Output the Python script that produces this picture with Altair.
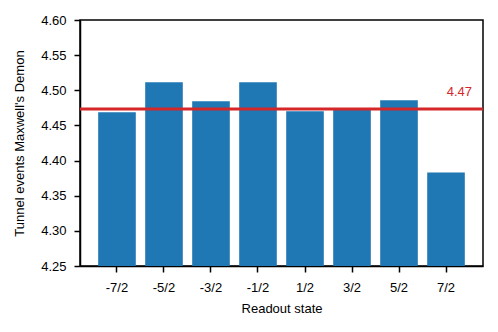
import altair as alt
import pandas as pd

states = ["-7/2", "-5/2", "-3/2", "-1/2", "1/2", "3/2", "5/2", "7/2"]
values = [4.4686, 4.5114, 4.4843, 4.5114, 4.4700, 4.4740, 4.4857, 4.3829]
yticks = [4.25, 4.30, 4.35, 4.40, 4.45, 4.50, 4.55, 4.60]

df = pd.DataFrame({"state": states, "value": values})
mean_val = sum(values) / len(values)
line_df = pd.DataFrame({"mean": [mean_val], "label": [f"{mean_val:.2f}"]})

FONT = "Liberation Sans"

yscale = alt.Scale(domain=[4.25, 4.6000001], zero=False, nice=False)
yaxis = alt.Axis(title="Tunnel events Maxwell's Demon", format=".2f",
                 labelOverlap=False, labelBound=False, labelFlush=False,
                 values=yticks, labelPadding=8, titlePadding=14)

bars = alt.Chart(df).mark_bar(color="#1f77b4", clip=True).encode(
    x=alt.X("state:N", sort=states,
            scale=alt.Scale(paddingInner=0.2, paddingOuter=0.387),
            axis=alt.Axis(title="Readout state", labelAngle=0,
                          labelPadding=9, titlePadding=8)),
    y=alt.Y("value:Q", scale=yscale, axis=yaxis),
    y2=alt.datum(4.25),
)

rule = alt.Chart(line_df).mark_rule(color="#d62728", strokeWidth=3).encode(
    y=alt.Y("mean:Q", scale=yscale, axis=yaxis)
)

text = alt.Chart(line_df).mark_text(
    color="#d62728", align="right", baseline="alphabetic", dy=-13, fontSize=13, font=FONT
).encode(
    x=alt.value(392),
    y=alt.Y("mean:Q", scale=yscale, axis=yaxis),
    text="label:N",
)

chart = alt.layer(bars, rule, text).properties(
    width=403, height=246,
    autosize=alt.AutoSizeParams(type="none"),
    padding={"left": 72, "top": 12, "right": 7, "bottom": 58},
).configure_view(
    stroke="black", strokeWidth=1.5
).configure_axis(
    domainColor="black", domainWidth=1.5, tickColor="black", tickWidth=1.5,
    tickSize=6, labelFont=FONT, titleFont=FONT, labelFontSize=13, titleFontSize=13,
    labelColor="black", titleColor="black", titleFontWeight="normal", grid=False,
    labelOverlap=False,
)

chart.save("out.html", embed_options={"renderer": "svg", "actions": False})
